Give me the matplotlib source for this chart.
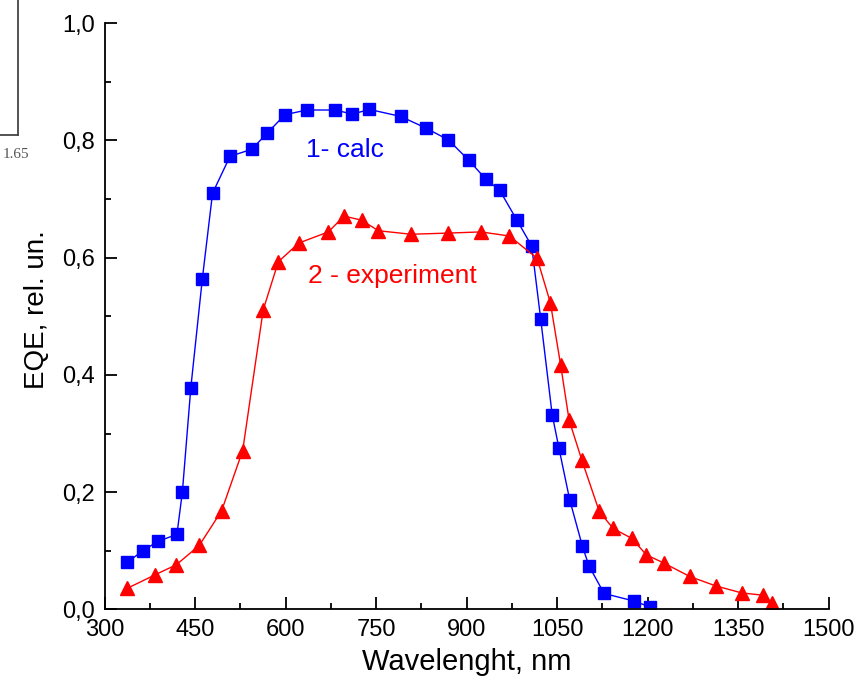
import matplotlib
matplotlib.use("Agg")
import matplotlib.pyplot as plt
from matplotlib.ticker import MultipleLocator, FuncFormatter
from matplotlib.lines import Line2D

plt.rcParams['font.family'] = ['Liberation Sans', 'DejaVu Sans']

calc_x = [338, 363, 389, 420, 429, 443, 462, 479, 508, 544, 570, 599, 635, 682, 711, 739,
          791, 833, 870, 904, 932, 955, 983, 1008, 1023, 1042, 1053, 1071, 1092, 1103, 1128, 1178, 1204]
calc_y = [0.080, 0.100, 0.116, 0.128, 0.200, 0.378, 0.563, 0.710, 0.773, 0.785, 0.813, 0.844,
          0.852, 0.852, 0.845, 0.853, 0.841, 0.821, 0.801, 0.766, 0.734, 0.715, 0.665, 0.620,
          0.495, 0.332, 0.276, 0.187, 0.108, 0.074, 0.027, 0.014, 0.004]

exp_x = [338, 384, 419, 457, 494, 529, 563, 588, 622, 671, 697, 726, 754, 808, 870, 924, 971,
         1017, 1039, 1056, 1070, 1091, 1120, 1143, 1174, 1198, 1227, 1270, 1313, 1356, 1392, 1407]
exp_y = [0.036, 0.059, 0.076, 0.109, 0.168, 0.271, 0.511, 0.593, 0.625, 0.644, 0.671, 0.664,
         0.646, 0.640, 0.642, 0.644, 0.637, 0.599, 0.523, 0.417, 0.323, 0.255, 0.167, 0.138,
         0.121, 0.093, 0.079, 0.056, 0.040, 0.028, 0.024, 0.010]

x_ticks = [300, 450, 600, 750, 900, 1050, 1200, 1350, 1500]

fig = plt.figure(figsize=(8.59, 6.97), dpi=100)
ax = fig.add_axes([0.1217, 0.1258, 0.8428, 0.8408])

ax.plot(calc_x, calc_y, color='#0000ff', lw=1.0, marker='s', ms=9, mec='#0000ff', mfc='#0000ff')
ax.plot(exp_x, exp_y, color='#ff0000', lw=1.0, marker='^', ms=10.5, mec='#ff0000', mfc='#ff0000')

ax.set_xlim(300, 1500)
ax.set_ylim(0, 1.0)
ax.set_xticks(x_ticks)
ax.xaxis.set_minor_locator(MultipleLocator(75))
ax.yaxis.set_major_locator(MultipleLocator(0.2))
ax.yaxis.set_minor_locator(MultipleLocator(0.1))
ax.yaxis.set_major_formatter(FuncFormatter(lambda v, p: f"{v:.1f}".replace('.', ',')))

for s in ['top', 'right']:
    ax.spines[s].set_visible(False)
for s in ['left', 'bottom']:
    ax.spines[s].set_linewidth(1.3)
ax.tick_params(which='major', direction='in', length=8.5, width=1.3, labelsize=17, pad=7)
ax.tick_params(which='minor', direction='in', length=4, width=1.3)

ax.set_xlabel('Wavelenght, nm', fontsize=21, labelpad=5)
ax.set_ylabel('EQE, rel. un.', fontsize=20)
ax.yaxis.set_label_coords(-0.075, 0.512)

ax.text(634, 0.772, '1- calc', color='#0000ff', fontsize=19, ha='left', va='baseline')
ax.text(637, 0.557, '2 - experiment', color='#ff0000', fontsize=19, ha='left', va='baseline')

# fragment of neighbouring figure at top-left
W, H = 859, 697
fig.add_artist(Line2D([18.3 / W, 18.3 / W], [1, 1 - 135 / H], transform=fig.transFigure, color='#444444', lw=1.3))
fig.add_artist(Line2D([0, 18.3 / W], [1 - 135 / H, 1 - 135 / H], transform=fig.transFigure, color='#444444', lw=1.3))
fig.text(3 / W, 1 - 155 / H, '1.65', fontsize=11, color='#555555', family=['Liberation Serif', 'DejaVu Serif'], ha='left', va='center')

fig.savefig('out.png', dpi=100)
